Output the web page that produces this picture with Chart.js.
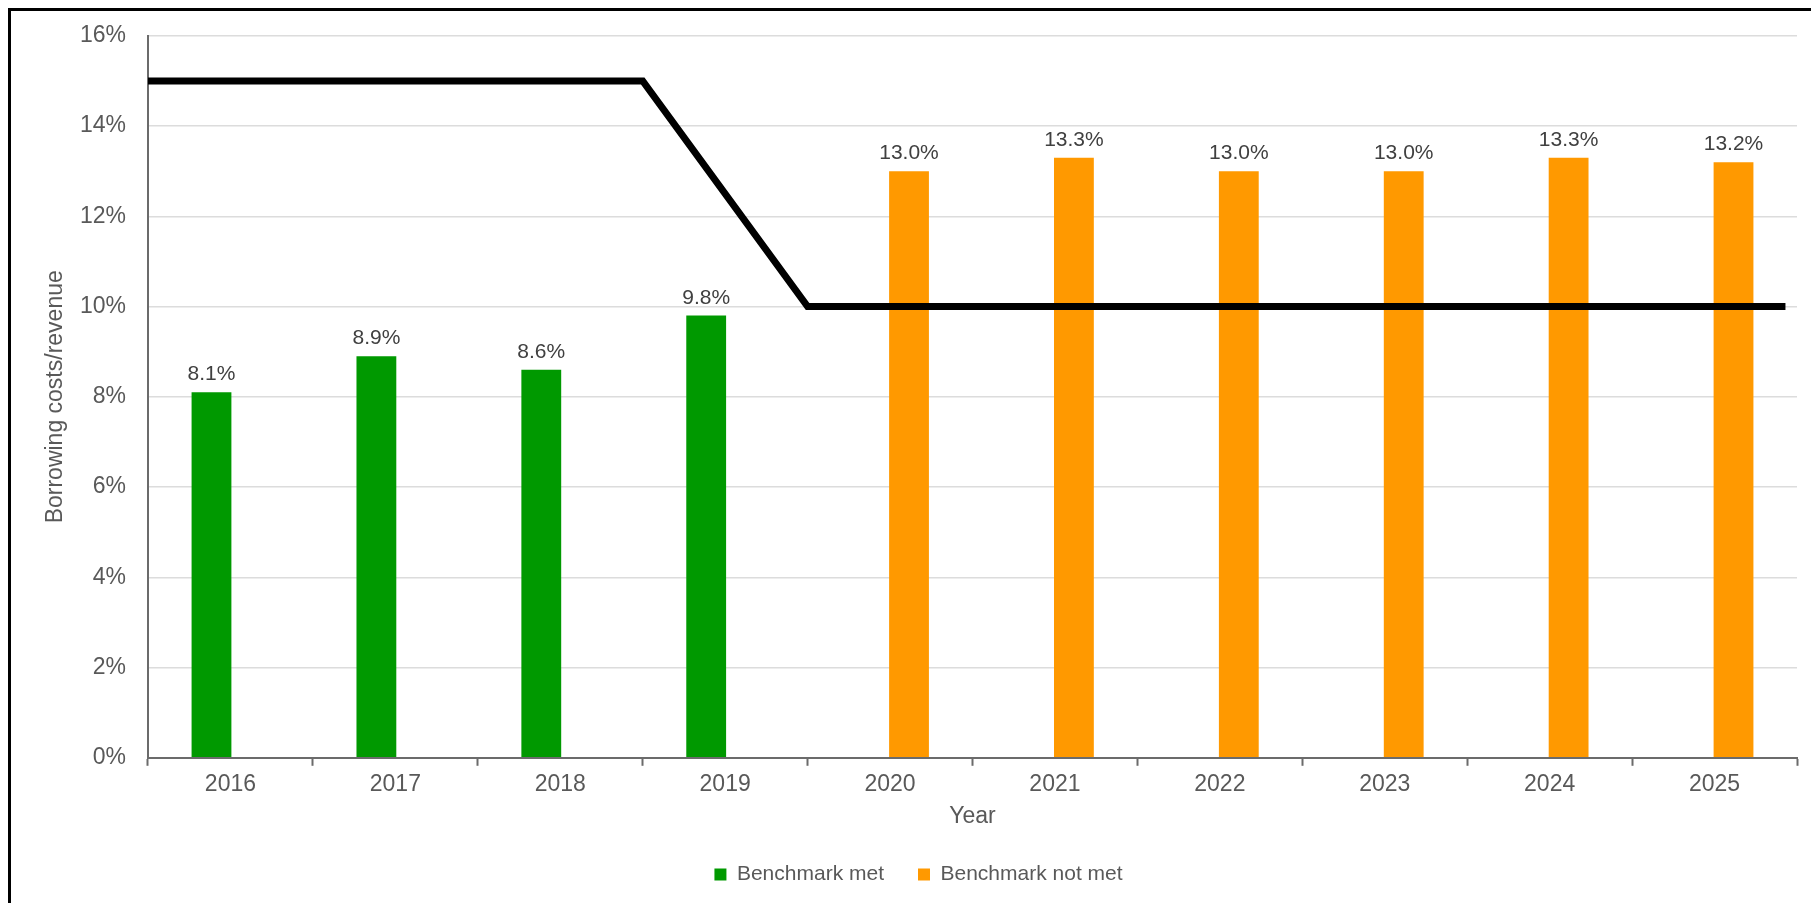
<!DOCTYPE html>
<html>
<head>
<meta charset="utf-8">
<title>Borrowing costs/revenue</title>
<script src="https://cdn.jsdelivr.net/npm/chart.js@4.4.1/dist/chart.umd.min.js"></script>
<style>
  html, body { margin: 0; padding: 0; background: #fff; overflow: hidden; }
  #wrap { position: relative; width: 1811px; height: 903px; overflow: hidden; }
  #frame {
    position: absolute; left: 8px; top: 8px; right: -20px; bottom: -20px;
    border-left: 3px solid #000; border-top: 3px solid #000;
    pointer-events: none;
  }
</style>
</head>
<body>
<div id="wrap">
  <canvas id="chart"></canvas>
  <div id="frame"></div>
</div>
<script>
'use strict';

// ── Data ──────────────────────────────────────────────────────────────────────
const years = ['2016', '2017', '2018', '2019', '2020', '2021', '2022', '2023', '2024', '2025'];
const metValues    = [8.1, 8.9, 8.6, 9.8, null, null, null, null, null, null];
const notMetValues = [null, null, null, null, 13.0, 13.3, 13.0, 13.0, 13.3, 13.2];

// benchmark line, x in category index units (-0.5 = left edge of the axis)
const benchmarkX = [-0.5, 2.5, 3.5, 9.43];
const benchmarkY = [15, 15, 10, 10];

const yMin = 0;
const yMax = 16;
const yStep = 2;

// ── Styling ───────────────────────────────────────────────────────────────────
const FONT = '"Liberation Sans", Arial, sans-serif';
const TEXT_GREY = '#595959';
const AXIS_GREY = '#6b6b6b';
const GREEN = '#009900';
const ORANGE = '#ff9900';

Chart.defaults.font.family = FONT;
Chart.defaults.color = TEXT_GREY;

// ── Value labels above the bars (drawn before the line so it sits on top) ────
const barValueLabels = {
  id: 'barValueLabels',
  afterDatasetDraw(chart, args) {
    let ds = chart.data.datasets[args.index];
    if (ds.type === 'line') return;
    let ctx = chart.ctx;
    ctx.save();
    ctx.font = '21px ' + FONT;
    ctx.fillStyle = '#404040';
    ctx.textAlign = 'center';
    ctx.textBaseline = 'alphabetic';
    args.meta.data.forEach((bar, i) => {
      let v = ds.data[i];
      if (v === null || v === undefined) return;
      ctx.fillText(v.toFixed(1) + '%', bar.x, bar.y - 12);
    });
    ctx.restore();
  }
};

// ── Chart ─────────────────────────────────────────────────────────────────────
new Chart(document.getElementById('chart'), {
  type: 'bar',
  data: {
    labels: years,
    datasets: [
      {
        label: 'Benchmark met',
        data: metValues,
        backgroundColor: GREEN,
        categoryPercentage: 0.46,
        barPercentage: 1.05,
        order: 1,
      },
      {
        label: 'Benchmark not met',
        data: notMetValues,
        backgroundColor: ORANGE,
        categoryPercentage: 0.46,
        barPercentage: 1.05,
        order: 1,
      },
      {
        // pre-parsed points so the corners can sit between two years
        type: 'line',
        label: 'Benchmark',
        parsing: false,
        data: benchmarkX.map((x, i) => ({ x: x, y: benchmarkY[i] })),
        borderColor: '#000',
        borderWidth: 7,
        borderJoinStyle: 'miter',
        pointRadius: 0,
        tension: 0,
        fill: false,
        order: 0,
      },
    ],
  },
  options: {
    responsive: true,
    maintainAspectRatio: false,
    animation: false,
    events: [],
    layout: { padding: { top: 35, right: 14, bottom: 8, left: 40 } },
    plugins: {
      tooltip: { enabled: false },
      legend: {
        position: 'bottom',
        labels: {
          boxWidth: 12,
          boxHeight: 12,
          padding: 34,
          color: TEXT_GREY,
          font: { size: 21 },
          filter: item => item.datasetIndex !== 2,
        },
      },
    },
    scales: {
      x: {
        offset: true,
        grid: {
          display: true,
          offset: true,
          drawOnChartArea: false,
          drawTicks: true,
          tickLength: 8,
          tickColor: AXIS_GREY,
          tickWidth: 2,
        },
        border: { color: AXIS_GREY, width: 2 },
        ticks: { color: TEXT_GREY, font: { size: 23 }, padding: 5, maxRotation: 0 },
        title: {
          display: true,
          text: 'Year',
          color: TEXT_GREY,
          font: { size: 23 },
          padding: { top: -1, bottom: 0 },
        },
      },
      y: {
        min: yMin,
        max: yMax,
        ticks: {
          stepSize: yStep,
          color: TEXT_GREY,
          font: { size: 23 },
          padding: 22,
          callback: v => v + '%',
        },
        grid: { color: '#dcdcdc', lineWidth: 1.5, drawTicks: false },
        border: { color: AXIS_GREY, width: 2 },
        title: {
          display: true,
          text: 'Borrowing costs/revenue',
          color: TEXT_GREY,
          font: { size: 23 },
          padding: { top: 2, bottom: 0 },
        },
        afterFit(scale) { scale.width = 108; },
      },
    },
  },
  plugins: [barValueLabels],
});
</script>
</body>
</html>
